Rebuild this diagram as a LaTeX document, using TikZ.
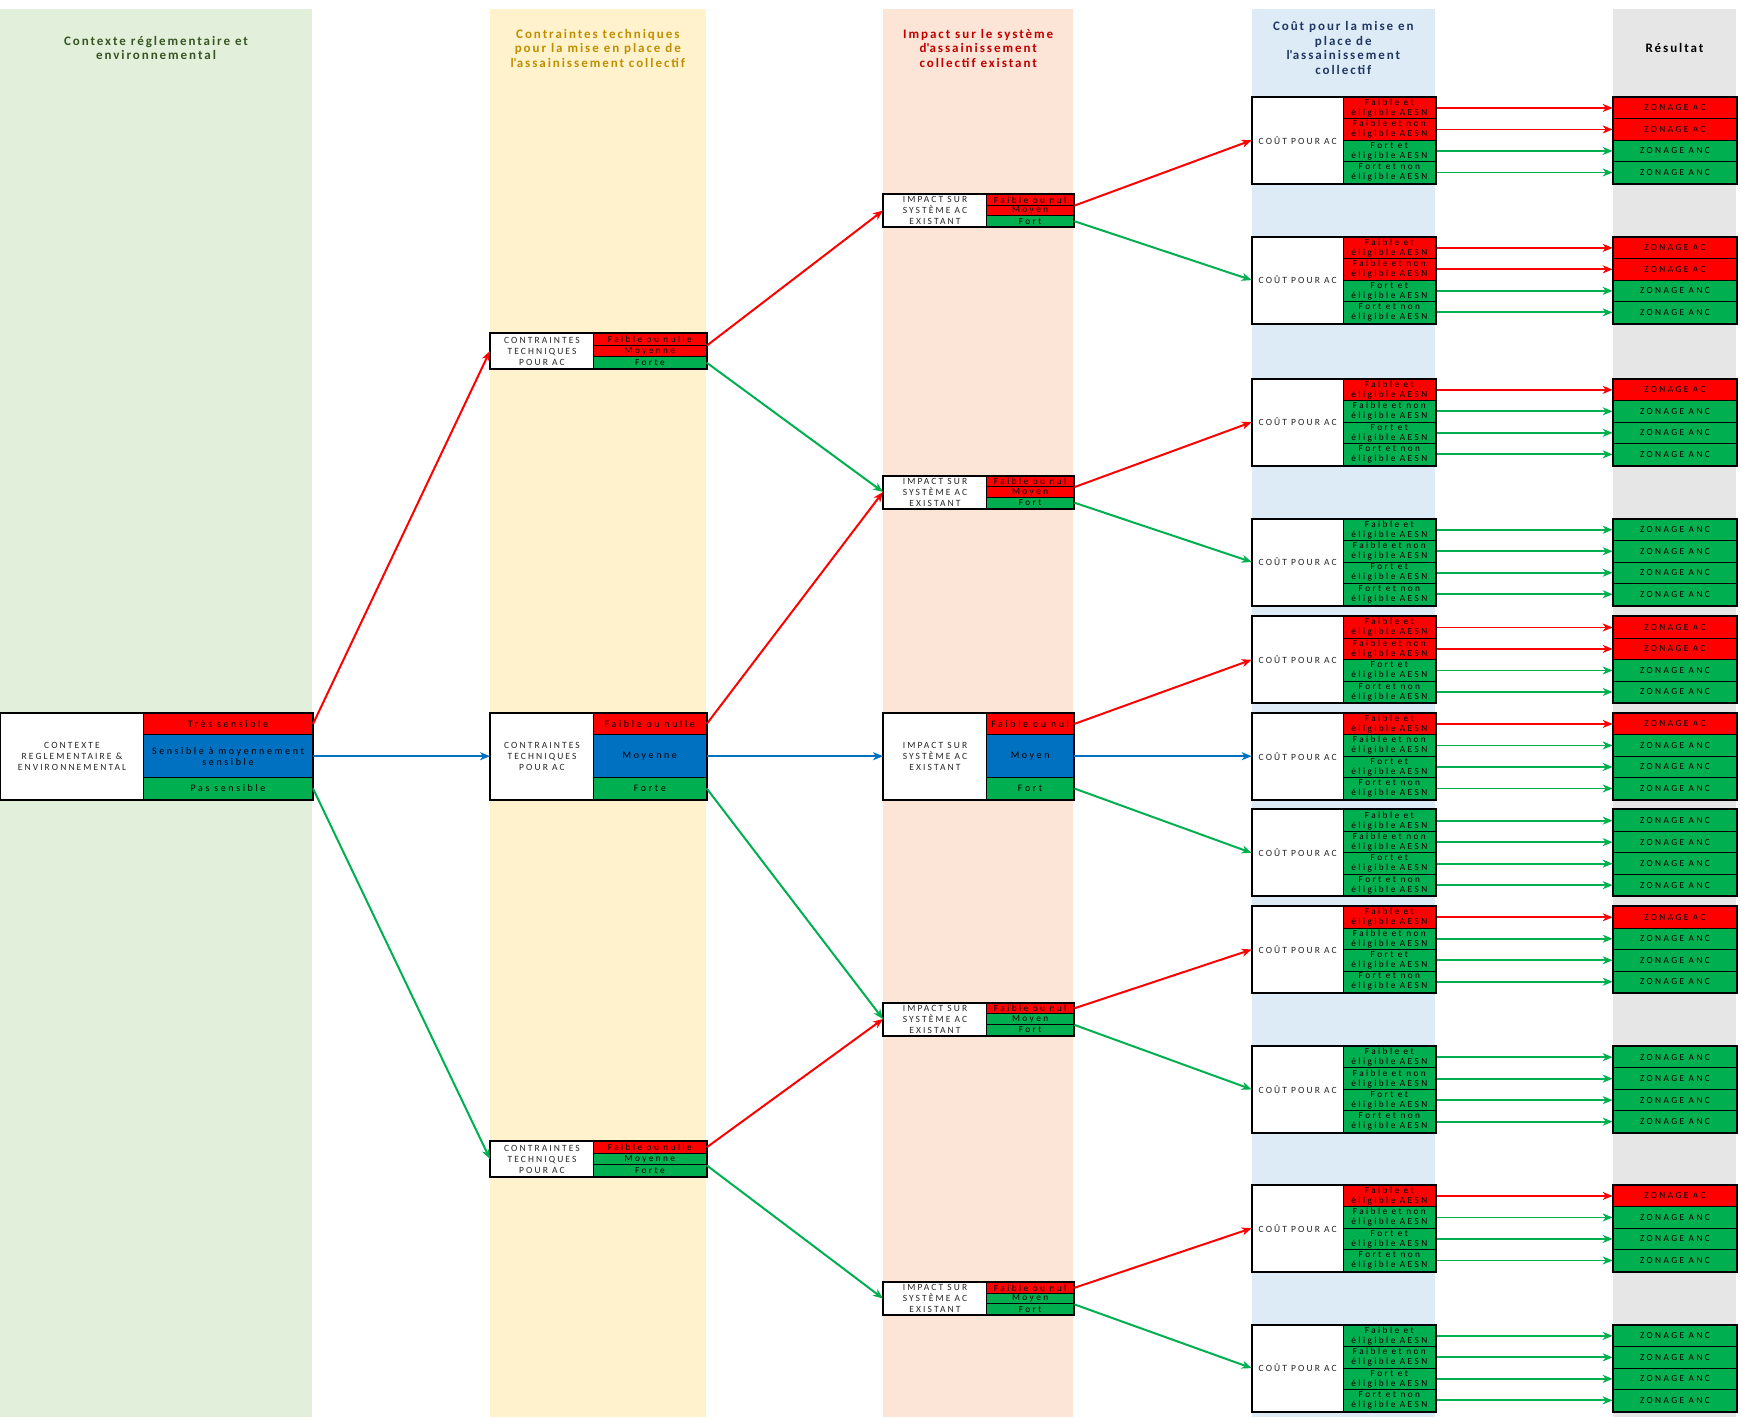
\documentclass[tikz,border=0pt]{standalone}
\usepackage{fontspec}
\setmainfont{Carlito}
\newfontfamily\headfont[LetterSpace=15]{Carlito}
\newfontfamily\labfont[LetterSpace=22]{Carlito}
\newfontfamily\cellfont[LetterSpace=26]{Carlito}
\usetikzlibrary{arrows.meta}

\definecolor{bandGreen}{HTML}{E2EFDA}
\definecolor{bandYellow}{HTML}{FFF2CC}
\definecolor{bandPink}{HTML}{FCE4D6}
\definecolor{bandBlue}{HTML}{DDEBF7}
\definecolor{bandGray}{HTML}{E7E6E6}
\definecolor{acRed}{HTML}{FF0000}
\definecolor{acGreen}{HTML}{00B050}
\definecolor{acBlue}{HTML}{0070C0}
\definecolor{headGreen}{HTML}{375623}
\definecolor{headGold}{HTML}{BF8F00}
\definecolor{headRed}{HTML}{C00000}
\definecolor{headBlue}{HTML}{203764}

\begin{document}
\begin{tikzpicture}[x=1pt, y=-1pt, line join=miter]

% ---------- styles ----------
\tikzset{
  bandHead/.style ={font=\headfont\bfseries\fontsize{13}{14.5}\selectfont, align=center},
  boxLab/.style   ={draw, line width=1pt, fill=white, anchor=north west, inner sep=0pt,
                    align=center, text=black!85, font=\labfont\fontsize{9.5}{11}\selectfont},
  boxCell/.style  ={draw, line width=1pt, anchor=north west, inner sep=0pt, align=center,
                    font=\cellfont\fontsize{9.3}{10}\selectfont},
  bigCell/.style  ={font=\cellfont\fontsize{10}{11}\selectfont},
  cellr/.style    ={boxCell, fill=acRed},
  cellg/.style    ={boxCell, fill=acGreen},
  cellb/.style    ={boxCell, fill=acBlue},
  boxFrame/.style ={draw, line width=2pt},
  linkr/.style    ={draw=acRed, line width=2pt, -{Stealth[length=10pt, width=8pt, inset=3pt]}},
  linkg/.style    ={linkr, draw=acGreen},
  linkb/.style    ={linkr, draw=acBlue}
}

\useasboundingbox (0,0) rectangle (1741,1417);

% ---------- background bands ----------
\fill[bandGreen]  (0,9)    rectangle (312,1417);
\fill[bandYellow] (490,9)  rectangle (705.7,1417);
\fill[bandPink]   (883,9)  rectangle (1073.3,1417);
\fill[bandBlue]   (1251.7,9) rectangle (1435,1417);
\fill[bandGray]   (1612.7,9) rectangle (1736.2,1417);

% ---------- band titles ----------
\node[bandHead, text=headGreen] (hCtx)  at (156,48)    {Contexte réglementaire et\\environnemental};
\node[bandHead, text=headGold]  (hCont) at (597.8,48)  {Contraintes techniques\\pour la mise en place de\\l\textquotesingle assainissement collectif};
\node[bandHead, text=headRed]   (hImp)  at (978.2,48)  {Impact sur le système\\d\textquotesingle assainissement\\collectif existant};
\node[bandHead, text=headBlue]  (hCout) at (1343.3,48) {Coût pour la mise en\\place de\\l\textquotesingle assainissement\\collectif};
\node[bandHead, text=black]     (hRes)  at (1674.5,48) {Résultat};

% ---------- middle row (large boxes) ----------
\node[boxLab, minimum width=143, minimum height=86] (ctx) at (0,712.7) {CONTEXTE\\REGLEMENTAIRE \&\\ENVIRONNEMENTAL};
\node[cellr, bigCell, minimum width=169, minimum height=21.5] (ctx-1) at (143,712.7) {Très sensible};
\node[cellb, bigCell, minimum width=169, minimum height=43]   (ctx-2) at (143,734.2) {Sensible à moyennement\\sensible};
\node[cellg, bigCell, minimum width=169, minimum height=21.5] (ctx-3) at (143,777.2) {Pas sensible};
\draw[boxFrame] (ctx.north west) rectangle (ctx-3.south east);

\node[boxLab, minimum width=103, minimum height=86] (ct2) at (490,712.7) {CONTRAINTES\\TECHNIQUES\\POUR AC};
\node[cellr, bigCell, minimum width=112.7, minimum height=21.5] (ct2-1) at (593,712.7) {Faible ou nulle};
\node[cellb, bigCell, minimum width=112.7, minimum height=43]   (ct2-2) at (593,734.2) {Moyenne};
\node[cellg, bigCell, minimum width=112.7, minimum height=21.5] (ct2-3) at (593,777.2) {Forte};
\draw[boxFrame] (ct2.north west) rectangle (ct2-3.south east);

\node[boxLab, minimum width=103, minimum height=86] (im3) at (883,712.7) {IMPACT SUR\\SYSTÈME AC\\EXISTANT};
\node[cellr, bigCell, minimum width=87.3, minimum height=21.5] (im3-1) at (986,712.7) {Faible ou nul};
\node[cellb, bigCell, minimum width=87.3, minimum height=43]   (im3-2) at (986,734.2) {Moyen};
\node[cellg, bigCell, minimum width=87.3, minimum height=21.5] (im3-3) at (986,777.2) {Fort};
\draw[boxFrame] (im3.north west) rectangle (im3-3.south east);

% ---------- small CONTRAINTES boxes ----------
\foreach \k/\yt/\ca/\cb/\cc in {1/333/r/r/g, 3/1141/r/g/g}{
  \node[boxLab, minimum width=103, minimum height=35] (ct\k) at (490,\yt) {CONTRAINTES\\TECHNIQUES\\POUR AC};
  \foreach \j/\col/\txt in {1/\ca/{Faible ou nulle}, 2/\cb/{Moyenne}, 3/\cc/{Forte}}
    \node[cell\col, minimum width=112.7, minimum height=11.67] (ct\k-\j) at (593,\yt+11.67*\j-11.67) {\txt};
  \draw[boxFrame] (ct\k.north west) rectangle (ct\k-3.south east);
}

% ---------- small IMPACT boxes ----------
\foreach \k/\yt/\ca/\cb/\cc in {1/194/r/r/g, 2/475.5/r/r/g, 4/1002.5/r/g/g, 5/1282/r/g/g}{
  \node[boxLab, minimum width=103, minimum height=32] (im\k) at (883,\yt) {IMPACT SUR\\SYSTÈME AC\\EXISTANT};
  \foreach \j/\col/\txt in {1/\ca/{Faible ou nul}, 2/\cb/{Moyen}, 3/\cc/{Fort}}
    \node[cell\col, minimum width=87.3, minimum height=10.67] (im\k-\j) at (986,\yt+10.67*\j-10.67) {\txt};
  \draw[boxFrame] (im\k.north west) rectangle (im\k-3.south east);
}

% ---------- COUT boxes and results ----------
\foreach \k/\yt/\ca/\cb/\cc/\cd in {1/96.7/r/r/g/g, 2/236.6/r/r/g/g, 3/378.6/r/g/g/g, 4/518.5/g/g/g/g,
    5/616.2/r/r/g/g, 6/712.7/r/g/g/g, 7/809.4/g/g/g/g, 8/906/r/g/g/g, 9/1045.9/g/g/g/g,
    10/1184.7/r/g/g/g, 11/1324.6/g/g/g/g}{
  \node[boxLab, minimum width=91, minimum height=86] (cout\k) at (1251.7,\yt) {COÛT POUR AC};
  \foreach \j/\col/\txt in {1/\ca/{Faible et\\éligible AESN}, 2/\cb/{Faible et non\\éligible AESN},
      3/\cc/{Fort et\\éligible AESN}, 4/\cd/{Fort et non\\éligible AESN}}{
    \node[cell\col, minimum width=92.3, minimum height=21.5] (cout\k-\j) at (1342.7,\yt+21.5*\j-21.5) {\txt};
    \node[cell\col, minimum width=123.5, minimum height=21.5] (res\k-\j) at (1612.7,\yt+21.5*\j-21.5)
      {\if r\col ZONAGE AC\else ZONAGE ANC\fi};
    \draw[link\col, line width=1.8pt] (cout\k-\j.east) -- (res\k-\j.west);
  }
  \draw[boxFrame] (cout\k.north west) rectangle (cout\k-4.south east);
  \draw[boxFrame] (res\k-1.north west) rectangle (res\k-4.south east);
}

% ---------- level 1 -> 2 ----------
\draw[linkr] (ctx-1.east) -- (ct1.west);
\draw[linkb] (ctx-2.east) -- (ct2.west);
\draw[linkg] (ctx-3.east) -- (ct3.west);

% ---------- level 2 -> 3 ----------
\draw[linkr] (ct1-1.south east) -- (im1.west);
\draw[linkg] (ct1-3.east) -- (im2.west);
\draw[linkr] (ct2-1.east) -- (im2.west);
\draw[linkb] (ct2-2.east) -- (im3.west);
\draw[linkg] (ct2-3.east) -- (im4.west);
\draw[linkr] (ct3-1.east) -- (im4.west);
\draw[linkg] (ct3-2.south east) -- (im5.west);

% ---------- level 3 -> 4 ----------
\draw[linkr] (im1-1.south east) -- (cout1.west);
\draw[linkg] (im1-3.east) -- (cout2.west);
\draw[linkr] (im2-1.south east) -- (cout3.west);
\draw[linkg] (im2-3.east) -- (cout4.west);
\draw[linkr] (im3-1.east) -- (cout5.west);
\draw[linkb] (im3-2.east) -- (cout6.west);
\draw[linkg] (im3-3.east) -- (cout7.west);
\draw[linkr] (im4-1.east) -- (cout8.west);
\draw[linkg] (im4-2.south east) -- (cout9.west);
\draw[linkr] (im5-1.east) -- (cout10.west);
\draw[linkg] (im5-2.south east) -- (cout11.west);

\end{tikzpicture}
\end{document}
